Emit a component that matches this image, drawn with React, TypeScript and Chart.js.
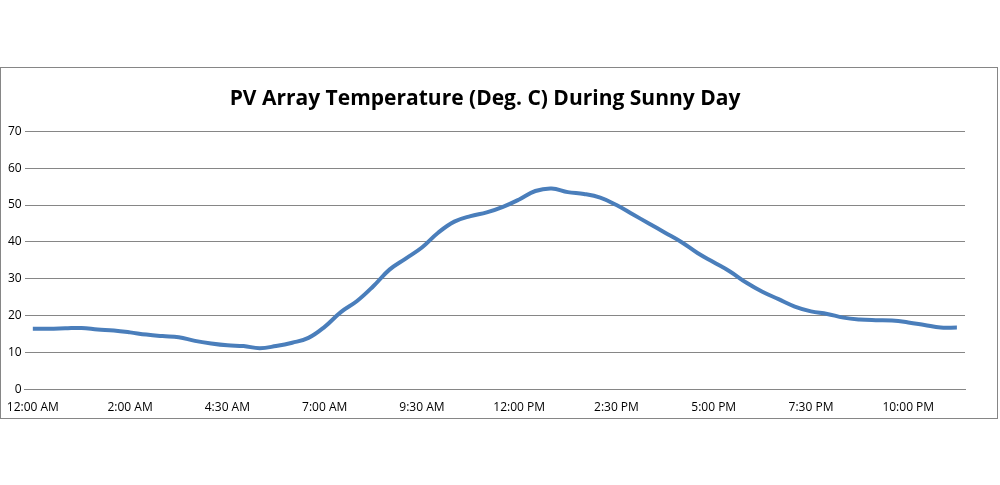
import React, { useEffect, useRef } from "react";
import { Chart, registerables } from "chart.js";
Chart.register(...registerables);

const tickLabels = ["12:00 AM", "2:00 AM", "4:30 AM", "7:00 AM", "9:30 AM", "12:00 PM", "2:30 PM", "5:00 PM", "7:30 PM", "10:00 PM"];
const temperatures = [16.5, 16.5, 16.6, 16.7, 16.3, 16, 15.5, 14.9, 14.5, 14.2, 13.2, 12.5, 12, 11.8, 11.2, 11.8, 12.7, 14, 17, 21, 24, 28, 32.5, 35.5, 38.5, 42.5, 45.5, 47, 48, 49.5, 51.5, 53.8, 54.5, 53.5, 53, 52, 50, 47.5, 45, 42.5, 40, 37, 34.5, 32, 29, 26.5, 24.5, 22.5, 21.2, 20.5, 19.5, 19, 18.8, 18.7, 18.2, 17.5, 16.8, 16.8];
const categories = temperatures.map((_, i) => (i % 6 === 0 ? tickLabels[i / 6] : ""));
const title = "PV Array Temperature (Deg. C) During Sunny Day";

export default function App() {
  const ref = useRef<HTMLCanvasElement>(null);
  useEffect(() => {
    document.body.style.margin = "0";
    const chart = new Chart(ref.current!, {
      type: "line",
      data: {
        labels: categories,
        datasets: [{ data: temperatures, borderColor: "#4a7ebb", borderWidth: 4, tension: 0.4, pointRadius: 0, fill: false }],
      },
      options: {
        animation: false,
        responsive: false,
        layout: { padding: { left: 4, right: 32, top: 12, bottom: 0 } },
        plugins: {
          legend: { display: false },
          tooltip: { enabled: false },
          title: { display: true, text: title, color: "#000", font: { family: "Open Sans", size: 21, weight: "bold" }, padding: { top: 6, bottom: 20 } },
        },
        scales: {
          x: {
            offset: true,
            grid: { display: false, drawTicks: true },
            border: { color: "#868686" },
            ticks: { autoSkip: false, maxRotation: 0, color: "#000", font: { family: "Open Sans", size: 12 } },
          },
          y: {
            min: 0, max: 70,
            ticks: { stepSize: 10, color: "#000", font: { family: "Open Sans", size: 12 } },
            grid: { color: "#868686", drawTicks: false },
            border: { display: false },
          },
        },
      },
    });
    return () => chart.destroy();
  }, []);
  return (
    <div style={{ position: "relative", width: 1000, height: 485, background: "#fff" }}>
      <div style={{ position: "absolute", left: 0, top: 67, width: 996, height: 350, border: "1px solid #868686" }}>
        <canvas ref={ref} width={996} height={350} />
      </div>
    </div>
  );
}
